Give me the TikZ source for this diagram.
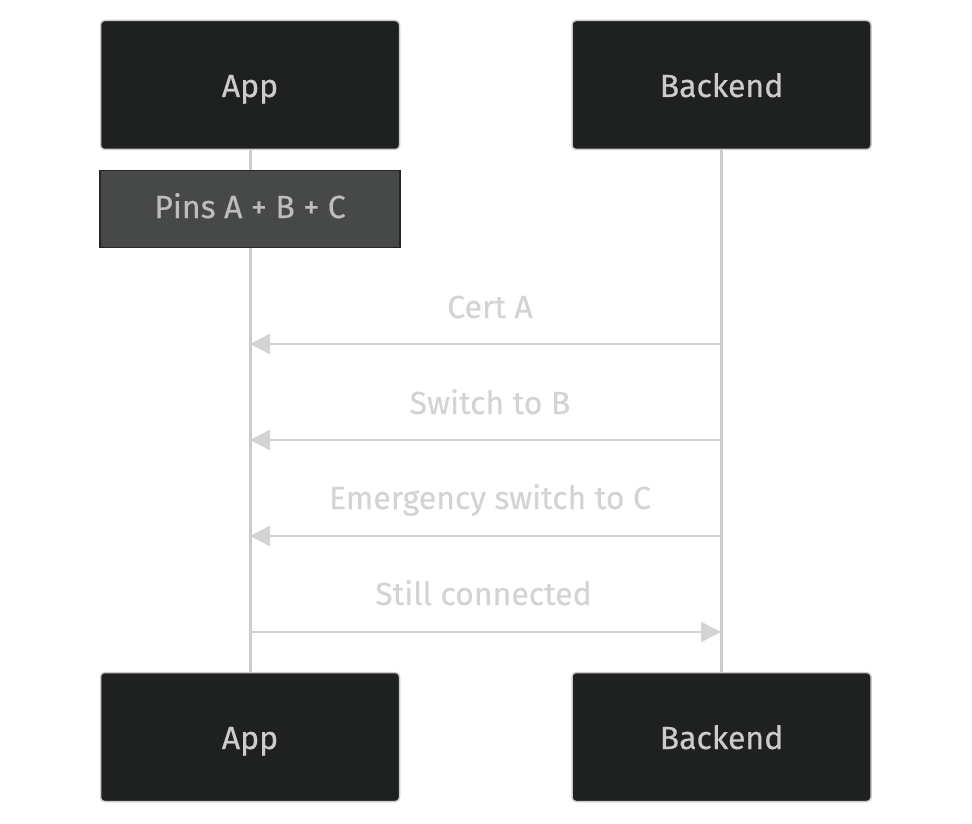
\documentclass[tikz,border=0pt]{standalone}
\usepackage{fontspec}
\setmainfont{Fira Sans}[FakeBold=0.4]
\usetikzlibrary{arrows.meta}
\definecolor{actorfill}{HTML}{1F2020}
\definecolor{actorline}{HTML}{CCCCCC}
\definecolor{notefill}{HTML}{474949}
\definecolor{noteline}{HTML}{262626}
\definecolor{notetext}{HTML}{BDBDBD}
\definecolor{lblcol}{HTML}{D3D3D3}
\definecolor{lifecol}{HTML}{CCCCCC}
\tikzset{
  actor/.style={draw=actorline, line width=1.5pt, fill=actorfill, rounded corners=4pt,
    minimum width=299pt, minimum height=129pt, inner sep=0pt},
  actortext/.style={anchor=base, inner sep=0pt, text=actorline, font=\fontsize{32}{36}\selectfont},
  notebox/.style={draw=noteline, line width=1.5pt, fill=notefill,
    minimum width=300pt, minimum height=77pt, inner sep=0pt},
  notetxt/.style={anchor=base, inner sep=0pt, text=notetext, font=\fontsize{32}{36}\selectfont},
  lifeline/.style={draw=lifecol, line width=3pt},
  msg/.style={draw=lblcol, line width=2.5pt, -{Triangle[length=20pt,width=20pt]}},
  msglbl/.style={anchor=base, inner sep=0pt, text=lblcol, font=\fontsize{32}{36}\selectfont}
}
\begin{document}
\begin{tikzpicture}[x=1pt,y=-1pt]
\useasboundingbox (0,0) rectangle (972,824);
% lifelines
\coordinate (appTopB) at (250,150);
\coordinate (appBotT) at (250,672);
\coordinate (beTopB) at (721,150);
\coordinate (beBotT) at (721,672);
\draw[lifeline] (appTopB) -- (appBotT);
\draw[lifeline] (beTopB) -- (beBotT);
% actors
\node[actor] (appTop) at (250,85) {};
\node[actor] (beTop) at (721.5,85) {};
\node[actor] (appBot) at (250,737) {};
\node[actor] (beBot) at (721.5,737) {};
\node[actortext] (appTopT) at (250,97) {App};
\node[actortext] (beTopT) at (721.5,97) {Backend};
\node[actortext] (appBotT2) at (250,749) {App};
\node[actortext] (beBotT2) at (721.5,749) {Backend};
% note
\node[notebox] (note) at (250,209) {};
\node[notetxt] (noteT) at (250,218) {Pins A + B + C};
% messages
\coordinate (b1) at (721,344); \coordinate (a1) at (250,344);
\coordinate (b2) at (721,440); \coordinate (a2) at (250,440);
\coordinate (b3) at (721,536); \coordinate (a3) at (250,536);
\coordinate (a4) at (250,632); \coordinate (b4) at (721,632);
\draw[msg] (b1) -- (a1);
\draw[msg] (b2) -- (a2);
\draw[msg] (b3) -- (a3);
\draw[msg] (a4) -- (b4);
\node[msglbl] (l1) at (490,318) {Cert A};
\node[msglbl] (l2) at (490,414) {Switch to B};
\node[msglbl] (l3) at (490,509) {Emergency switch to C};
\node[msglbl] (l4) at (483.5,605) {Still connected};
\end{tikzpicture}
\end{document}
